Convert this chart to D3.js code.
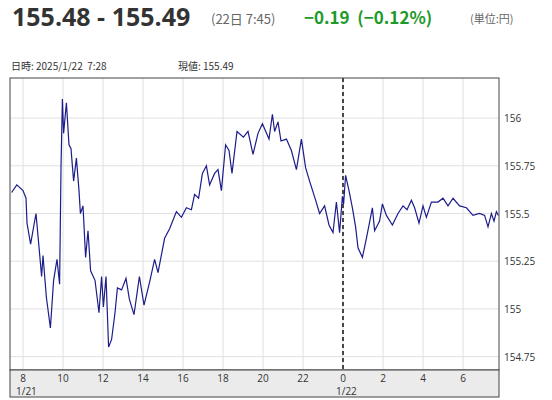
<!DOCTYPE html>
<html><head><meta charset="utf-8">
<script src="https://cdn.jsdelivr.net/npm/d3@7"></script>
<style>
body{margin:0;background:#fff;font-family:"Noto Sans CJK JP","Noto Sans",sans-serif;}
text{white-space:pre;}
</style></head>
<body><div id="chart"></div>
<script>
// hours since 0:00 on 1/21 (24 = 0:00 on 1/22)
var hours = [7.43,7.69,8.0,8.15,8.2,8.38,8.65,8.77,8.93,9.0,9.17,9.37,9.53,9.7,9.83,9.9,9.97,10.03,10.17,10.3,10.4,10.53,10.67,10.8,10.87,11.0,11.13,11.25,11.38,11.6,11.8,11.93,12.02,12.15,12.28,12.43,12.6,12.72,12.93,13.15,13.32,13.55,13.82,14.05,14.33,14.58,14.75,15.08,15.33,15.67,15.92,16.17,16.42,16.58,16.78,16.97,17.17,17.33,17.58,17.75,17.92,18.13,18.3,18.45,18.7,19.02,19.25,19.5,19.75,19.97,20.3,20.47,20.58,20.75,20.9,21.17,21.42,21.67,21.92,22.13,22.33,22.63,22.83,23.08,23.3,23.5,23.67,23.83,23.97,24.03,24.13,24.3,24.47,24.63,24.75,24.97,25.17,25.47,25.58,25.83,25.97,26.17,26.47,26.75,27.0,27.2,27.42,27.58,27.8,28.0,28.17,28.42,28.75,29.0,29.25,29.5,29.83,30.17,30.5,30.83,31.08,31.25,31.42,31.55,31.67,31.77];
var prices = [155.61,155.65,155.62,155.58,155.45,155.34,155.50,155.36,155.17,155.28,155.06,154.90,155.15,155.26,155.13,155.74,156.10,155.92,156.08,155.86,155.84,155.67,155.79,155.62,155.50,155.54,155.27,155.41,155.20,155.15,154.98,155.17,155.01,155.17,154.80,154.84,154.98,155.11,155.10,155.16,155.05,154.97,155.17,155.02,155.14,155.26,155.19,155.37,155.42,155.51,155.48,155.53,155.52,155.60,155.58,155.71,155.75,155.65,155.71,155.73,155.62,155.86,155.83,155.71,155.93,155.90,155.93,155.81,155.92,155.97,155.89,156.02,155.93,155.98,155.88,155.89,155.83,155.73,155.89,155.74,155.67,155.57,155.50,155.54,155.44,155.40,155.56,155.40,155.59,155.55,155.70,155.62,155.53,155.43,155.32,155.27,155.37,155.53,155.41,155.46,155.55,155.49,155.44,155.50,155.54,155.52,155.57,155.53,155.45,155.54,155.48,155.56,155.56,155.58,155.54,155.58,155.54,155.53,155.49,155.50,155.49,155.43,155.50,155.46,155.51,155.49];
var xTicks = [8,10,12,14,16,18,20,22,24,26,28,30];
var yTicks = [154.75,155,155.25,155.5,155.75,156];
var dateLabels = [{h:8,t:"1/21"},{h:24,t:"1/22"}];

function drawChart() {
  var W = 552, H = 400;
  var mLeft = 10, mRight = 499, mTop = 78, mBottom = 370, axisBottom = 397;

  var svg = d3.select("#chart").append("svg").attr("width", W).attr("height", H);

  // header
  svg.append("text").attr("x",12).attr("y",26).attr("font-size",25).attr("font-weight","bold")
    .attr("fill","#333").attr("font-family","'Open Sans',sans-serif").text("155.48 - 155.49");
  svg.append("text").attr("x",211).attr("y",24).attr("font-size",13).attr("fill","#666").text("(22日 7:45)");
  svg.append("text").attr("x",304).attr("y",24).attr("font-size",17).attr("font-weight","bold")
    .attr("fill","#1e9a2a").text("−0.19  (−0.12%)");
  svg.append("text").attr("x",470).attr("y",23).attr("font-size",11).attr("fill","#666").text("(単位:円)");
  svg.append("text").attr("x",11).attr("y",70).attr("font-size",10).attr("fill","#333").text("日時: 2025/1/22  7:28");
  svg.append("text").attr("x",178).attr("y",70).attr("font-size",10).attr("fill","#333").text("現値: 155.49");

  var x = d3.scaleLinear().domain([7.35, 31.8]).range([mLeft, mRight]);
  var y = d3.scaleLinear().domain([154.68, 156.21]).range([mBottom, mTop]);

  // grid
  svg.append("g").selectAll("line").data(xTicks).enter().append("line")
    .attr("x1", d => x(d)).attr("x2", d => x(d)).attr("y1", mTop).attr("y2", mBottom)
    .attr("stroke", "#e0e0e0");
  svg.append("g").selectAll("line").data(yTicks).enter().append("line")
    .attr("x1", mLeft).attr("x2", mRight).attr("y1", d => y(d)).attr("y2", d => y(d))
    .attr("stroke", "#e0e0e0");

  // dashed day divider
  svg.append("line").attr("x1", x(24)).attr("x2", x(24)).attr("y1", mTop).attr("y2", mBottom)
    .attr("stroke", "#111").attr("stroke-width", 1.5).attr("stroke-dasharray", "4,3");

  var line = d3.line().x((d, i) => x(hours[i])).y(d => y(d));
  svg.append("path").datum(prices).attr("d", line).attr("fill", "none")
    .attr("stroke", "#1c1c8a").attr("stroke-width", 1.2);

  // frame
  svg.append("rect").attr("x", mLeft).attr("y", mTop).attr("width", mRight - mLeft).attr("height", mBottom - mTop)
    .attr("fill", "none").attr("stroke", "#444");

  // y labels
  svg.append("g").selectAll("text").data(yTicks).enter().append("text")
    .attr("x", mRight + 5).attr("y", d => y(d) + 4).attr("font-size", 10).attr("fill", "#333")
    .attr("font-family", "'Open Sans',sans-serif").text(d => d3.format("")(d));

  // x axis band
  svg.append("rect").attr("x", mLeft).attr("y", mBottom).attr("width", mRight - mLeft).attr("height", axisBottom - mBottom)
    .attr("fill", "#ebebeb").attr("stroke", "#444");
  svg.append("g").selectAll("text").data(xTicks).enter().append("text")
    .attr("x", d => x(d)).attr("y", mBottom + 12).attr("text-anchor", "middle").attr("font-size", 10)
    .attr("fill", "#333").attr("font-family", "'Open Sans',sans-serif").text(d => d % 24);
  svg.append("g").selectAll("text").data(dateLabels).enter().append("text")
    .attr("x", d => x(d.h) - 7).attr("y", mBottom + 25).attr("font-size", 10)
    .attr("fill", "#333").attr("font-family", "'Open Sans',sans-serif").text(d => d.t);
}

drawChart();
</script></body></html>
